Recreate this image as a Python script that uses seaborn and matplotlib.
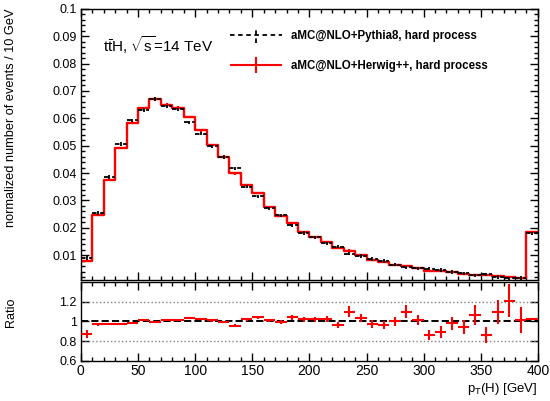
import numpy as np
import pandas as pd
import matplotlib
matplotlib.use("Agg")
import matplotlib.pyplot as plt
import seaborn as sns
from matplotlib.container import ErrorbarContainer
from matplotlib.legend_handler import HandlerErrorbar
from matplotlib.ticker import MultipleLocator, FixedLocator, FuncFormatter

# ---------------- data ----------------
bin_edges = np.arange(0, 410, 10)

herwig = [0.0078, 0.0246, 0.0374, 0.0492, 0.0583, 0.0636, 0.0669, 0.0650, 0.0639, 0.0604,
          0.0556, 0.0503, 0.0458, 0.0399, 0.0358, 0.0328, 0.0275, 0.0244, 0.0217, 0.0185,
          0.0168, 0.0147, 0.0126, 0.0117, 0.0100, 0.0084, 0.0076, 0.0066, 0.0062, 0.0053,
          0.0044, 0.0041, 0.0038, 0.0032, 0.0029, 0.0027, 0.0023, 0.0019, 0.0017, 0.0184]

pythia = [0.0090, 0.0254, 0.0386, 0.0506, 0.0593, 0.0630, 0.0671, 0.0644, 0.0633, 0.0586,
          0.0544, 0.0498, 0.0459, 0.0417, 0.0350, 0.0315, 0.0272, 0.0246, 0.0209, 0.0181,
          0.0165, 0.0143, 0.0131, 0.0106, 0.0097, 0.0086, 0.0079, 0.0066, 0.0056, 0.0052,
          0.0051, 0.0046, 0.0039, 0.0034, 0.0027, 0.0031, 0.0021, 0.0016, 0.0017, 0.0180]

ratio = [0.87, 0.97, 0.97, 0.973, 0.983, 1.01, 0.997, 1.01, 1.01, 1.03,
         1.023, 1.01, 0.997, 0.957, 1.023, 1.04, 1.01, 0.993, 1.04, 1.02,
         1.02, 1.027, 0.96, 1.10, 1.033, 0.977, 0.967, 1.003, 1.10, 1.017,
         0.86, 0.89, 0.98, 0.94, 1.067, 0.86, 1.093, 1.21, 1.017, 1.02]

ratio_err = [0.04, 0.012, 0.01, 0.01, 0.01, 0.01, 0.01, 0.01, 0.01, 0.01,
             0.012, 0.012, 0.012, 0.015, 0.015, 0.017, 0.018, 0.02, 0.022, 0.025,
             0.027, 0.03, 0.03, 0.055, 0.04, 0.04, 0.04, 0.045, 0.067, 0.05,
             0.05, 0.06, 0.065, 0.07, 0.10, 0.08, 0.12, 0.17, 0.13, 0.01]

labels = ["aMC@NLO+Pythia8, hard process", "aMC@NLO+Herwig++, hard process"]
ytick_vals_ratio = [0.6, 0.8, 1.0, 1.2]
ytick_labels_ratio = ["0.6", "0.8", "1", "1.2"]

# ---------------- style ----------------
sns.set_theme(style="ticks")
plt.rcParams.update({
    "font.family": ["Liberation Sans", "DejaVu Sans"],
    "mathtext.fontset": "custom",
    "mathtext.rm": "Liberation Sans",
    "mathtext.it": "Liberation Sans:italic",
    "mathtext.bf": "Liberation Sans:bold",
    "axes.edgecolor": "black",
    "axes.linewidth": 1.0,
    "xtick.color": "black",
    "ytick.color": "black",
    "xtick.direction": "in",
    "ytick.direction": "in",
    "xtick.top": True,
    "ytick.right": True,
    "xtick.major.size": 5.5,
    "ytick.major.size": 5.5,
    "xtick.minor.size": 2.8,
    "ytick.minor.size": 2.8,
    "xtick.major.width": 1.0,
    "ytick.major.width": 1.0,
    "xtick.minor.width": 1.0,
    "ytick.minor.width": 1.0,
    "xtick.minor.visible": True,
    "text.color": "black",
    "axes.labelcolor": "black",
})

centers = (bin_edges[:-1] + bin_edges[1:]) / 2
df = pd.DataFrame({"pt": centers, "herwig": herwig, "pythia": pythia,
                   "ratio": ratio, "rerr": ratio_err})

fig = plt.figure(figsize=(5.5, 4.01), dpi=100)
ax1 = fig.add_axes([0.147, 0.302, 0.831, 0.676])
ax2 = fig.add_axes([0.147, 0.100, 0.831, 0.197])

# ---------------- upper panel ----------------
sns.histplot(data=df, x="pt", weights="herwig", binwidth=10, binrange=(0, 400),
             element="step", fill=False, color="red", linewidth=1.7, ax=ax1)
ax1.errorbar(df["pt"], df["herwig"], yerr=df["herwig"] * df["rerr"] / 1.4,
             fmt="none", ecolor="red", elinewidth=1.5)
eb_p = ax1.errorbar(df["pt"], df["pythia"], xerr=5,
                    yerr=np.maximum(df["pythia"] * df["rerr"], 0.0006),
                    fmt="none", ecolor="black", elinewidth=1.3)
eb_p[2][0].set_linestyle((0, (2.5, 2.0)))

ax1.set_xlim(0, 400)
ax1.set_ylim(0.001, 0.1)
ax1.xaxis.set_major_locator(MultipleLocator(50))
ax1.xaxis.set_minor_locator(MultipleLocator(10))
ax1.yaxis.set_major_locator(MultipleLocator(0.01))
ax1.yaxis.set_minor_locator(MultipleLocator(0.002))
ax1.yaxis.set_major_formatter(FuncFormatter(lambda v, p: f"{v:g}"))
ax1.tick_params(axis="x", which="both", labelbottom=False)
ax1.tick_params(axis="y", labelsize=9, pad=3)
ax1.set_xlabel("")
ax1.set_ylabel("normalized number of events / 10 GeV", fontsize=9.2, loc="top")
ax1.yaxis.set_label_coords(-0.14, 1.0)

ax1.text(0.048, 0.867, r"t$\bar{\mathrm{t}}$H, $\sqrt{\mathrm{s}}$=14 TeV",
         transform=ax1.transAxes, fontsize=11, va="center", ha="left")

# ---------------- ratio panel ----------------
ax2.axhline(1.0, color="black", ls="--", lw=1.4, zorder=1)
for yv in (0.8, 1.2):
    ax2.axhline(yv, color="gray", ls=":", lw=1.0, zorder=1)
eb_r = ax2.errorbar(df["pt"], df["ratio"], xerr=5, yerr=df["rerr"],
                    fmt="none", ecolor="red", elinewidth=1.5, zorder=3)

ax2.set_xlim(0, 400)
ax2.set_ylim(0.6, 1.4)
ax2.xaxis.set_major_locator(MultipleLocator(50))
ax2.xaxis.set_minor_locator(MultipleLocator(10))
ax2.yaxis.set_major_locator(FixedLocator(ytick_vals_ratio))
ax2.set_yticklabels(ytick_labels_ratio)
ax2.yaxis.set_minor_locator(FixedLocator([]))
ax2.tick_params(axis="y", labelsize=9, pad=3)
ax2.tick_params(axis="x", labelsize=10, pad=2)
ax2.set_ylabel("Ratio", fontsize=9)
ax2.yaxis.set_label_coords(-0.14, 0.61)
ax2.set_xlabel(r"p$_{\mathrm{T}}$(H) [GeV]", fontsize=9.5, loc="right")
ax2.xaxis.set_label_coords(1.0, -0.25)

# ---------------- legend ----------------
ax1.legend([eb_p, eb_r], labels,
           handler_map={ErrorbarContainer: HandlerErrorbar(xerr_size=2.25, yerr_size=0.7)},
           loc="upper left", bbox_to_anchor=(0.326, 0.922), frameon=False,
           prop={"weight": "bold", "size": 8.3}, handlelength=4.5,
           handletextpad=0.8, labelspacing=1.6, borderpad=0, borderaxespad=0)

fig.savefig("out.png", dpi=100)
